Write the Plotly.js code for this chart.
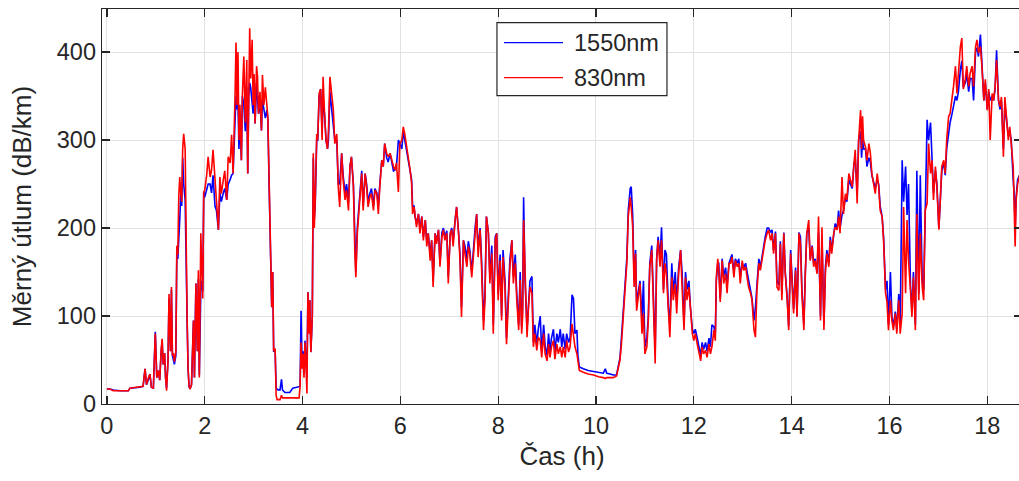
<!DOCTYPE html>
<html><head><meta charset="utf-8">
<script src="https://cdn.plot.ly/plotly-3.0.1.min.js"></script>
<style>html,body{margin:0;padding:0;overflow:hidden;background:#fff}</style>
</head><body><div id="chart" style="width:1024px;height:481px"></div>
<script>
// Time (hours)
const timeH = [
0.00,0.06,0.13,0.27,0.44,0.47,0.67,0.74,0.78,0.81,
0.85,0.88,0.91,0.95,0.99,1.02,1.05,1.08,1.11,1.13,
1.15,1.18,1.20,1.22,1.25,1.27,1.30,1.32,1.34,1.36,
1.38,1.41,1.43,1.45,1.47,1.49,1.51,1.53,1.55,1.57,
1.60,1.62,1.64,1.66,1.68,1.70,1.73,1.77,1.79,1.82,
1.85,1.87,1.89,1.92,1.94,1.96,1.98,2.00,2.04,2.07,
2.11,2.14,2.17,2.21,2.24,2.28,2.31,2.34,2.38,2.41,
2.45,2.48,2.52,2.55,2.58,2.60,2.62,2.64,2.66,2.68,
2.70,2.72,2.75,2.77,2.80,2.83,2.86,2.88,2.90,2.92,
2.94,2.97,2.99,3.01,3.03,3.06,3.08,3.10,3.13,3.16,
3.18,3.21,3.24,3.27,3.29,3.32,3.35,3.37,3.39,3.41,
3.44,3.46,3.48,3.50,3.54,3.57,3.59,3.64,3.74,3.80,
3.88,3.93,3.95,3.97,3.99,4.01,4.03,4.05,4.07,4.09,
4.11,4.13,4.15,4.17,4.20,4.22,4.24,4.26,4.29,4.31,
4.34,4.37,4.40,4.42,4.45,4.48,4.51,4.53,4.56,4.59,
4.63,4.66,4.70,4.73,4.76,4.80,4.83,4.87,4.90,4.94,
4.97,5.00,5.04,5.07,5.09,5.12,5.15,5.17,5.21,5.24,
5.28,5.31,5.34,5.38,5.41,5.45,5.48,5.52,5.55,5.58,
5.62,5.65,5.68,5.72,5.75,5.79,5.82,5.86,5.89,5.92,
5.96,5.99,6.03,6.06,6.09,6.13,6.16,6.20,6.23,6.25,
6.28,6.30,6.33,6.37,6.40,6.44,6.47,6.51,6.54,6.57,
6.61,6.64,6.67,6.71,6.74,6.78,6.81,6.85,6.88,6.91,
6.95,6.98,7.02,7.05,7.08,7.12,7.15,7.19,7.22,7.25,
7.29,7.32,7.36,7.39,7.42,7.46,7.49,7.53,7.56,7.59,
7.63,7.66,7.70,7.73,7.76,7.80,7.83,7.87,7.90,7.94,
7.97,8.00,8.04,8.07,8.10,8.14,8.17,8.21,8.24,8.28,
8.31,8.35,8.38,8.42,8.45,8.48,8.50,8.52,8.55,8.59,
8.62,8.65,8.69,8.72,8.75,8.79,8.82,8.86,8.89,8.93,
8.96,9.00,9.03,9.06,9.09,9.13,9.16,9.20,9.23,9.27,
9.30,9.33,9.37,9.40,9.44,9.47,9.51,9.54,9.57,9.61,
9.63,9.66,9.74,9.84,9.95,10.05,10.15,10.19,10.22,10.29,
10.35,10.42,10.45,10.49,10.52,10.56,10.59,10.63,10.66,10.70,
10.72,10.75,10.78,10.81,10.83,10.87,10.90,10.94,10.97,11.00,
11.04,11.07,11.10,11.14,11.17,11.21,11.24,11.27,11.31,11.34,
11.38,11.41,11.44,11.48,11.51,11.55,11.58,11.62,11.65,11.69,
11.73,11.76,11.80,11.83,11.86,11.90,11.93,11.97,12.00,12.03,
12.07,12.10,12.14,12.17,12.20,12.24,12.27,12.31,12.34,12.37,
12.41,12.44,12.46,12.49,12.51,12.54,12.58,12.61,12.65,12.68,
12.72,12.75,12.78,12.82,12.85,12.89,12.92,12.95,12.99,13.02,
13.06,13.09,13.12,13.16,13.19,13.23,13.26,13.29,13.33,13.36,
13.40,13.43,13.46,13.50,13.53,13.57,13.60,13.63,13.67,13.70,
13.74,13.77,13.80,13.84,13.87,13.91,13.94,13.98,14.01,14.04,
14.08,14.11,14.15,14.18,14.21,14.25,14.28,14.31,14.35,14.38,
14.42,14.45,14.48,14.52,14.55,14.59,14.62,14.66,14.69,14.72,
14.76,14.79,14.82,14.86,14.89,14.93,14.96,14.99,15.03,15.06,
15.10,15.13,15.17,15.20,15.24,15.27,15.30,15.34,15.37,15.41,
15.43,15.45,15.47,15.51,15.54,15.58,15.61,15.64,15.68,15.71,
15.75,15.78,15.81,15.85,15.88,15.92,15.95,15.98,16.02,16.05,
16.08,16.12,16.15,16.19,16.22,16.26,16.29,16.33,16.36,16.39,
16.43,16.46,16.49,16.53,16.56,16.60,16.63,16.67,16.70,16.73,
16.77,16.80,16.84,16.87,16.90,16.94,16.97,17.01,17.04,17.07,
17.11,17.14,17.17,17.21,17.24,17.28,17.31,17.35,17.38,17.41,
17.45,17.48,17.51,17.55,17.58,17.62,17.65,17.69,17.72,17.76,
17.79,17.82,17.86,17.89,17.93,17.96,18.00,18.03,18.06,18.10,
18.13,18.16,18.19,18.23,18.26,18.29,18.33,18.36,18.39,18.43,
18.46,18.49,18.53,18.55,18.57,18.59,18.62,18.66
];

// Measured attenuation at 1550 nm (dB/km)
const att1550 = [
17,17,16,15,15,18,19,20,40,22,
28,34,19,18,82,30,38,27,60,72,
45,58,30,18,50,120,60,130,55,50,
45,55,170,165,200,210,240,225,280,250,
232,133,97,40,20,17,22,95,30,137,
60,142,33,130,140,128,241,235,245,250,
250,240,260,225,220,198,240,230,240,245,
232,250,255,260,262,300,340,350,335,345,
290,320,277,350,340,310,360,262,350,365,
360,345,330,355,319,365,350,330,345,311,
345,332,325,334,325,240,160,110,150,60,
60,18,17,16,16,28,16,13,13,18,
19,20,20,106,45,60,35,72,55,30,
127,90,118,59,100,280,210,228,300,300,
350,358,310,340,330,300,290,300,355,340,
320,300,300,250,250,285,260,240,250,230,
270,281,250,175,150,200,220,240,265,225,
262,250,230,240,245,225,245,240,225,250,
277,270,296,280,275,285,277,265,266,270,
300,296,290,310,300,285,280,265,255,225,
225,213,205,216,200,213,190,209,185,194,
170,186,140,194,185,198,160,195,200,190,
197,145,194,200,185,209,224,195,170,110,
186,180,165,185,175,150,175,201,216,175,
200,165,95,125,213,195,145,180,90,190,
194,125,170,100,175,140,75,125,165,186,
145,170,125,90,150,88,110,235,140,85,
120,140,145,70,90,68,85,100,60,90,
66,55,80,60,75,85,60,80,70,85,
65,80,62,80,70,75,124,120,80,84,
55,42,40,38,37,36,35,40,35,34,
33,33,40,52,75,110,140,165,220,245,
247,215,140,175,115,130,140,95,140,65,
75,100,160,180,125,60,165,190,165,201,
130,175,170,110,90,160,125,150,115,155,
175,150,90,150,130,140,110,85,80,85,
75,68,55,70,62,70,60,75,65,90,
88,80,140,160,160,120,165,145,155,135,
160,165,170,150,165,160,165,145,160,155,
160,150,140,130,120,95,110,135,165,155,
170,180,190,200,200,195,198,175,196,140,
135,185,125,195,150,120,88,175,140,108,
155,100,195,190,130,90,150,195,200,165,
180,160,165,150,195,100,190,90,155,175,
160,190,175,195,205,200,220,200,215,220,
235,230,255,250,245,270,280,240,300,310,
280,300,290,290,270,280,275,260,250,245,
255,250,225,213,190,130,140,90,150,100,
88,105,85,125,90,277,230,270,215,250,
135,105,150,90,265,125,260,140,130,225,
323,300,320,280,240,265,250,200,235,265,
275,260,290,310,320,330,340,350,345,355,
380,390,360,365,375,355,370,370,345,400,
405,395,420,385,345,365,335,355,345,350,
345,358,402,345,335,345,290,340,325,305,
310,300,255,240,200,235,255,260
];

// Measured attenuation at 830 nm (dB/km)
const att830 = [
17,17,15,15,15,18,19,20,40,22,
30,34,19,18,80,30,38,27,62,74,
45,58,30,15,50,125,60,133,55,58,
48,60,180,170,237,258,240,230,290,307,
290,135,97,40,20,17,22,95,30,137,
60,152,30,194,140,120,241,243,260,281,
258,266,289,251,232,198,258,239,255,265,
232,281,274,306,262,300,350,411,340,400,
300,340,277,350,395,320,391,262,350,427,
370,414,340,375,319,384,372,330,355,311,
374,340,360,334,327,247,160,110,150,60,
63,10,5,5,5,10,7,7,7,7,
7,7,20,70,40,57,30,70,45,12,
127,80,118,59,100,285,200,232,307,300,
353,358,300,372,330,300,290,310,372,358,
334,296,307,247,224,285,255,232,243,220,
270,281,247,171,144,194,215,232,262,220,
262,247,224,236,239,220,243,239,216,247,
277,270,296,285,281,285,277,270,266,274,
241,296,300,315,307,292,285,266,251,216,
224,213,201,216,194,213,186,209,179,194,
163,186,133,194,182,198,156,190,198,186,
194,137,194,198,179,209,224,194,163,99,
186,171,156,179,171,144,167,201,216,167,
198,156,84,118,213,194,137,171,80,186,
194,118,163,95,167,133,68,118,156,186,
137,160,118,84,141,80,100,209,137,76,
110,133,126,65,80,61,76,72,53,80,
57,49,68,53,65,72,51,68,57,65,
53,65,53,72,59,65,91,80,65,57,
48,38,36,34,33,31,30,29,30,30,
30,32,40,50,68,106,133,160,213,235,
224,201,133,171,106,126,137,80,103,57,
65,95,156,175,118,46,164,186,156,186,
126,160,148,106,76,144,118,137,103,148,
175,133,84,144,118,133,106,80,72,80,
68,61,49,65,57,61,53,68,57,65,
84,72,144,165,152,116,163,137,148,126,
160,160,167,144,163,156,160,137,163,152,
156,144,133,126,118,84,76,129,160,152,
167,179,186,194,198,186,194,171,194,133,
129,182,118,194,148,118,84,171,137,103,
152,99,194,182,126,84,148,194,209,163,
179,156,163,148,213,95,201,84,148,171,
156,186,171,194,201,198,213,194,258,216,
239,232,262,255,247,270,289,228,300,334,
290,327,300,292,277,296,285,262,247,239,
262,247,220,213,186,126,116,84,118,95,
84,103,80,118,80,103,224,126,209,163,
129,99,144,84,216,118,194,133,118,220,
228,296,262,277,232,270,247,198,232,270,
277,262,300,327,330,345,361,384,353,376,
406,416,358,369,384,361,376,384,361,406,
414,399,406,384,345,369,334,358,300,353,
345,361,391,345,338,349,281,349,330,300,
315,292,270,224,179,232,250,260
];

const seriesNames = ['1550nm', '830nm'];
const seriesColors = ['#0000ff', '#ff0000'];
const xTickVals = [0, 2, 4, 6, 8, 10, 12, 14, 16, 18];
const yTickVals = [0, 100, 200, 300, 400];
const xLabel = 'Čas (h)';
const yLabel = 'Měrný útlum (dB/km)';

const FONT = '"Liberation Sans", Arial, Helvetica, sans-serif';
const INK = '#262626';

const traces = [
  {x: timeH, y: att1550, name: seriesNames[0], type: 'scatter', mode: 'lines',
   line: {color: seriesColors[0], width: 1.6}, showlegend: false},
  {x: timeH, y: att830, name: seriesNames[1], type: 'scatter', mode: 'lines',
   line: {color: seriesColors[1], width: 1.6}, showlegend: false}
];

// Legend drawn in paper coordinates (MATLAB-style box)
const lg = {x0: 0.4293, x1: 0.6141, y0: 0.7805, y1: 0.9657,
            lx0: 0.437, lx1: 0.5011, tx: 0.5109, rows: [0.915, 0.8261]};
const shapes = [
  {type: 'rect', xref: 'paper', yref: 'paper', x0: lg.x0, x1: lg.x1, y0: lg.y0, y1: lg.y1,
   line: {color: INK, width: 1.2}, fillcolor: '#ffffff', layer: 'above'}
];
const annotations = [];
seriesNames.forEach((nm, i) => {
  shapes.push({type: 'line', xref: 'paper', yref: 'paper', x0: lg.lx0, x1: lg.lx1,
    y0: lg.rows[i], y1: lg.rows[i], line: {color: seriesColors[i], width: 1.3}, layer: 'above'});
  annotations.push({xref: 'paper', yref: 'paper', x: lg.tx, y: lg.rows[i], text: nm,
    showarrow: false, xanchor: 'left', yanchor: 'middle',
    font: {family: FONT, size: 23.5, color: INK}});
});

const axisCommon = {
  showline: true, linecolor: INK, linewidth: 1.3, mirror: 'ticks',
  ticks: 'inside', ticklen: 8, tickwidth: 1.3, tickcolor: INK,
  showgrid: true, gridcolor: '#e1e1e1', gridwidth: 1,
  zeroline: false, tickfont: {family: FONT, size: 23.5, color: INK}
};

const layout = {
  width: 1024, height: 481,
  margin: {l: 102, r: 2, t: 9, b: 77, pad: 0},
  paper_bgcolor: '#ffffff', plot_bgcolor: '#ffffff',
  font: {family: FONT, color: INK},
  xaxis: Object.assign({}, axisCommon, {
    range: [-0.1, 18.71], tickvals: xTickVals, ticktext: xTickVals.map(String),
    title: {text: xLabel, font: {family: FONT, size: 26, color: INK}, standoff: 9}
  }),
  yaxis: Object.assign({}, axisCommon, {
    range: [0, 449], tickvals: yTickVals, ticktext: yTickVals.map(String),
    title: {text: yLabel, font: {family: FONT, size: 26, color: INK}, standoff: 17}
  }),
  shapes: shapes,
  annotations: annotations,
  showlegend: false
};

Plotly.newPlot('chart', traces, layout, {staticPlot: true, displayModeBar: false});
</script>
</body></html>
